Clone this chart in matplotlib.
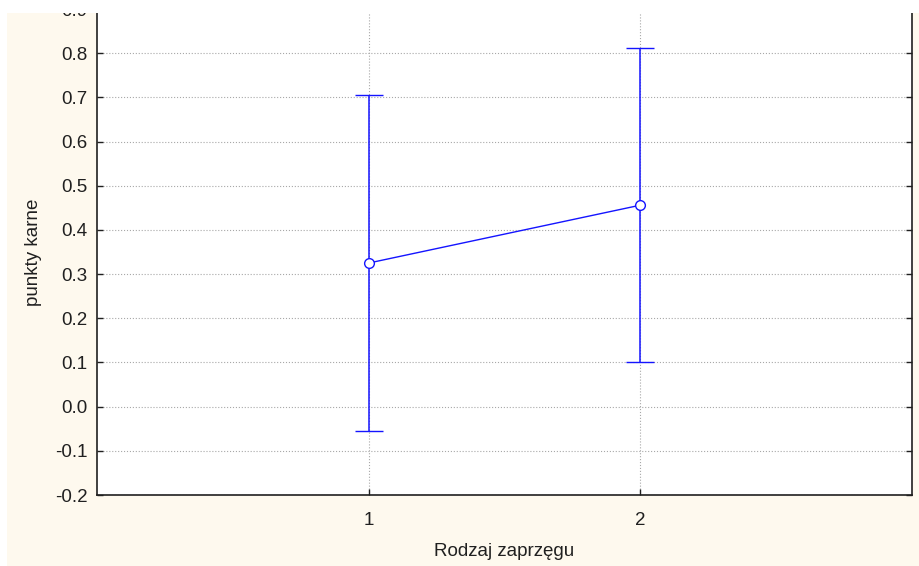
import numpy as np
import matplotlib.pyplot as plt
from matplotlib.patches import Rectangle

plt.rcParams['font.family'] = ['Liberation Sans', 'DejaVu Sans']

# group means with the ends of their interval bars
groups = [1, 2]
means = [0.325, 0.456]
lower = [-0.055, 0.102]
upper = [0.705, 0.812]

yticks = [-0.2, -0.1, 0.0, 0.1, 0.2, 0.3, 0.4, 0.5, 0.6, 0.7, 0.8, 0.9]

W, H = 919, 566
fig = plt.figure(figsize=(W / 100, H / 100), dpi=100)
fig.patch.set_facecolor('#fef9ee')

ax = fig.add_axes([97 / W, (H - 495) / H, (912 - 97) / W, (495 - 9) / H])
ax.set_facecolor('white')

m = np.array(means)
yerr = np.vstack([m - np.array(lower), np.array(upper) - m])
ax.errorbar(groups, means, yerr=yerr, color='#1414ff', lw=1.0, elinewidth=1.1,
            capsize=10, capthick=1.1, marker='o', ms=7, mfc='white',
            mec='#1414ff', mew=1.0, zorder=3)

ax.set_xlim(0, 3)
ax.set_ylim(-0.2, 0.9)
ax.set_xticks(groups)
ax.set_yticks(yticks)
ax.set_yticklabels([f'{v:.1f}' for v in yticks])
ax.grid(True, ls=':', color='#a8a8a8', lw=0.8)
ax.set_axisbelow(True)

for s in ax.spines.values():
    s.set_linewidth(1.2)
    s.set_color('#202020')

ax.tick_params(direction='in', length=4, width=1, labelsize=13.5,
               colors='#202020', right=True, top=False)
ax.tick_params(axis='y', pad=7)
ax.tick_params(axis='x', pad=12)

ax.set_xlabel('Rodzaj zaprzęgu', fontsize=13.5, color='#202020')
ax.set_ylabel('punkty karne', fontsize=13.5, color='#202020')
ax.xaxis.set_label_coords(0.5, -(551 - 495) / (495 - 9), transform=ax.transAxes)
ax.yaxis.set_label_coords(-(97 - 33) / (912 - 97), 0.5, transform=ax.transAxes)
ax.xaxis.label.set_va('center')
ax.yaxis.label.set_va('center')

# white margin along the top and left edges
fig.add_artist(Rectangle((0, 0), 7 / W, 1, transform=fig.transFigure,
                         facecolor='white', edgecolor='none', zorder=10))
fig.add_artist(Rectangle((0, (H - 13) / H), 1, 13 / H, transform=fig.transFigure,
                         facecolor='white', edgecolor='none', zorder=10))

fig.savefig('out.png', dpi=100, facecolor=fig.get_facecolor())
